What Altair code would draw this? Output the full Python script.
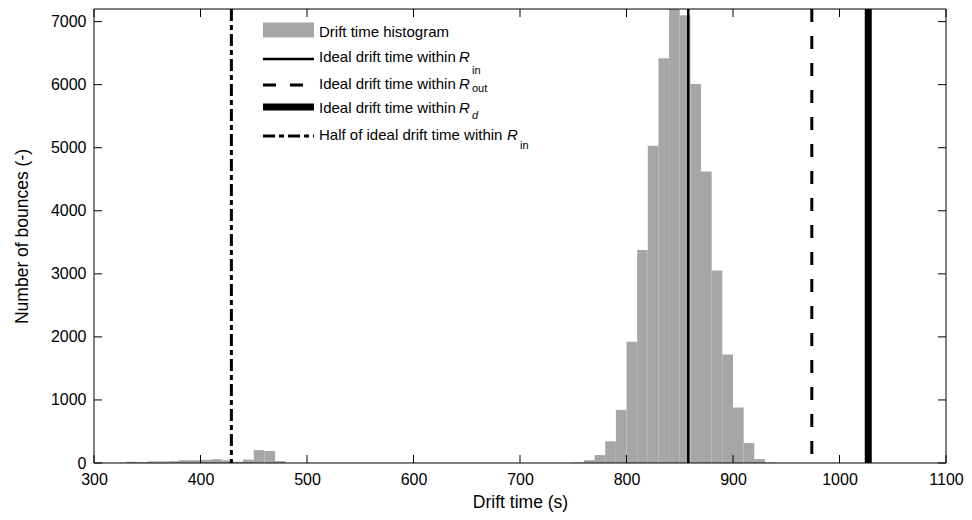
import altair as alt
import pandas as pd

# ---------------- data ----------------
bin_start = [320, 330, 340, 350, 360, 370, 380, 390, 400, 410, 420, 430, 440, 450, 460, 470,
             750, 760, 770, 780, 790, 800, 810, 820, 830, 840, 850, 860, 870, 880, 890,
             900, 910, 920, 930]
counts = [5, 20, 12, 25, 25, 30, 45, 45, 50, 60, 45, 20, 55, 205, 190, 30,
          10, 45, 126, 343, 842, 1922, 3379, 5030, 6420, 7200, 7100, 6010, 4622, 3052, 1721,
          880, 316, 63, 8]
bin_width = 10

x_ticks = [300, 400, 500, 600, 700, 800, 900, 1000, 1100]
y_ticks = [0, 1000, 2000, 3000, 4000, 5000, 6000, 7000]

ideal_in = [858]      # Ideal drift time within R_in
ideal_out = [974]     # Ideal drift time within R_out
ideal_d = [1027]      # Ideal drift time within R_d
half_in = [429]       # Half of ideal drift time within R_in

legend_labels = ["Drift time histogram",
                 "Ideal drift time within ",
                 "Ideal drift time within ",
                 "Ideal drift time within ",
                 "Half of ideal drift time within "]
legend_subs = ["", "in", "out", "d", "in"]

# ---------------- layout ----------------
W, H = 852, 454
FONT = "Liberation Sans"
X_DOMAIN = [300, 1100]
Y_DOMAIN = [0, 7200]
GRAY = "#a6a6a6"

hist = pd.DataFrame({"start": bin_start,
                     "end": [s + bin_width for s in bin_start],
                     "count": counts})

xscale = alt.Scale(domain=X_DOMAIN, nice=False, zero=False)
yscale = alt.Scale(domain=Y_DOMAIN, nice=False)

bars = alt.Chart(hist).mark_rect(color=GRAY, clip=True).encode(
    x=alt.X("start:Q", scale=xscale,
            axis=alt.Axis(title="Drift time (s)", values=x_ticks, format="d",
                          labelFlush=False, labelPadding=8, titlePadding=6)),
    x2="end:Q",
    y=alt.Y("count:Q", scale=yscale,
            axis=alt.Axis(title="Number of bounces (-)", values=y_ticks, format="d",
                          labelFlush=False, labelPadding=8, titlePadding=19)),
    y2=alt.datum(0),
)


def vline(vals, width, dash=None):
    kw = dict(color="black", strokeWidth=width)
    if dash:
        kw["strokeDash"] = dash
    return alt.Chart(pd.DataFrame({"v": vals})).mark_rule(**kw).encode(
        x=alt.X("v:Q", scale=xscale))


DASH = [13, 14]
DASHDOT = [12, 4, 5, 4]

line_in = vline(ideal_in, 2.5)
line_out = vline(ideal_out, 3, DASH)
line_d = vline(ideal_d, 7)
line_half = vline(half_in, 3, DASHDOT)

# inward ticks on all four sides
xt = pd.DataFrame({"v": x_ticks})
yt = pd.DataFrame({"v": y_ticks})
TK = 8
tick_b = alt.Chart(xt).mark_rule(color="black", strokeWidth=1).encode(
    x=alt.X("v:Q", scale=xscale), y=alt.value(H), y2=alt.value(H - TK))
tick_t = alt.Chart(xt).mark_rule(color="black", strokeWidth=1).encode(
    x=alt.X("v:Q", scale=xscale), y=alt.value(0), y2=alt.value(TK))
tick_l = alt.Chart(yt).mark_rule(color="black", strokeWidth=1).encode(
    y=alt.Y("v:Q", scale=yscale), x=alt.value(0), x2=alt.value(TK))
tick_r = alt.Chart(yt).mark_rule(color="black", strokeWidth=1).encode(
    y=alt.Y("v:Q", scale=yscale), x=alt.value(W), x2=alt.value(W - TK))

one = pd.DataFrame({"k": [0]})
frame = alt.Chart(one).mark_rect(filled=False, stroke="black", strokeWidth=1).encode(
    x=alt.value(0), x2=alt.value(W), y=alt.value(0), y2=alt.value(H))

# ---------------- manual legend ----------------
LX0, LX1, TX = 169, 220, 225
row_base = [28, 53, 80, 104, 131]
sym_y = [21, 50, 76, 98, 127]
sub_base = [0, 65, 83, 110, 140]
R_x = [0, 365, 365, 365, 413]

layers = []
layers.append(alt.Chart(one).mark_rect(color=GRAY).encode(
    x=alt.value(LX0), x2=alt.value(LX1),
    y=alt.value(sym_y[0] - 7.5), y2=alt.value(sym_y[0] + 7.5)))
sym_styles = [None, dict(strokeWidth=2.5), dict(strokeWidth=3, strokeDash=DASH),
              dict(strokeWidth=7), dict(strokeWidth=3, strokeDash=DASHDOT)]
for i in range(1, 5):
    layers.append(alt.Chart(one).mark_rule(color="black", **sym_styles[i]).encode(
        x=alt.value(LX0), x2=alt.value(LX1), y=alt.value(sym_y[i])))

for i, lab in enumerate(legend_labels):
    layers.append(alt.Chart(one).mark_text(
        text=lab, align="left", baseline="alphabetic", font=FONT, fontSize=15,
        color="black").encode(x=alt.value(TX), y=alt.value(row_base[i])))
    if legend_subs[i]:
        layers.append(alt.Chart(one).mark_text(
            text="R", align="left", baseline="alphabetic", font=FONT, fontSize=15,
            fontStyle="italic", color="black").encode(
            x=alt.value(R_x[i]), y=alt.value(row_base[i])))
        sub_style = "italic" if legend_subs[i] == "d" else "normal"
        layers.append(alt.Chart(one).mark_text(
            text=legend_subs[i], align="left", baseline="alphabetic", font=FONT,
            fontSize=11, fontStyle=sub_style, color="black").encode(
            x=alt.value(R_x[i] + 13), y=alt.value(sub_base[i])))

chart = alt.layer(
    bars, line_half, line_in, line_out, line_d,
    tick_b, tick_t, tick_l, tick_r, frame, *layers
).properties(
    width=W, height=H,
    autosize=alt.AutoSizeParams(type="none"),
    padding={"left": 86, "top": 1, "right": 18, "bottom": 49},
).configure_view(
    stroke=None
).configure_axis(
    ticks=False, domain=False, grid=False,
    labelFont=FONT, labelFontSize=16, labelColor="black",
    titleFont=FONT, titleFontSize=17.5, titleFontWeight="normal", titleColor="black",
)

chart.save("out.html", embed_options={"renderer": "svg", "actions": False})
